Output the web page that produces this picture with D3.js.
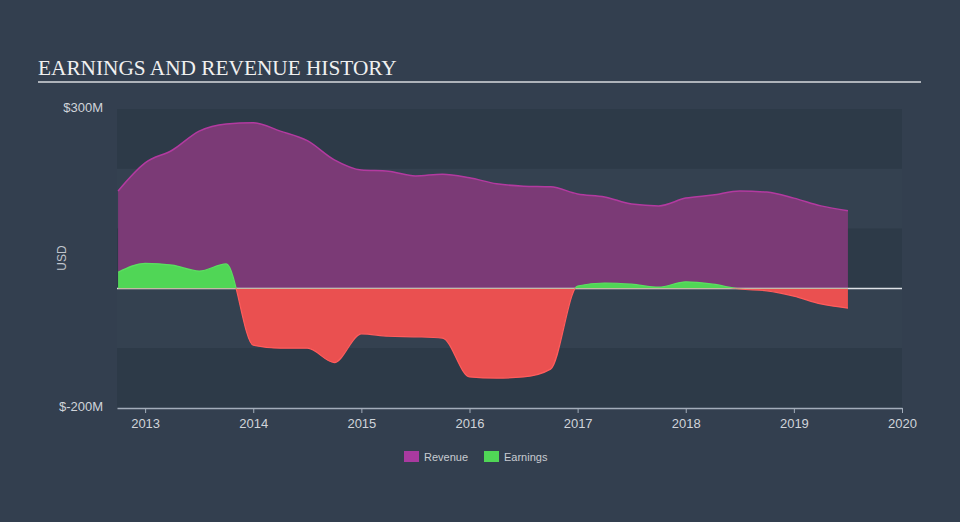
<!DOCTYPE html>
<html>
<head>
<meta charset="utf-8">
<script src="https://cdn.jsdelivr.net/npm/d3@7"></script>
<style>
  html, body { margin: 0; padding: 0; background: #333f4f; }
  svg { display: block; }
</style>
</head>
<body>
<svg id="chart" width="960" height="522"></svg>
<script>
// ---- data (USD millions, trailing twelve months, quarterly) ----
const dates = [
  2012.75, 2013.00, 2013.25, 2013.50, 2013.75, 2014.00, 2014.25, 2014.50,
  2014.75, 2015.00, 2015.25, 2015.50, 2015.75, 2016.00, 2016.25, 2016.50,
  2016.75, 2017.00, 2017.25, 2017.50, 2017.75, 2018.00, 2018.25, 2018.50,
  2018.75, 2019.00, 2019.25, 2019.50
];
const revenue = [
  163, 210, 231, 263, 275, 277, 263, 247,
  215, 198, 196, 188, 191, 185, 175, 171,
  170, 158, 153, 141, 138, 151, 156, 163,
  161, 151, 138, 130
];
const earnings = [
  27, 42, 39, 29, 41, -95, -100, -100,
  -124, -76, -80, -81, -83, -148, -150, -148,
  -135, 4, 9, 7, 2, 11, 7, -1,
  -4, -13, -26, -33
];
const xTicks = [2013, 2014, 2015, 2016, 2017, 2018, 2019, 2020];
const yDomain = [-200, 300];
const yLabels = ["$300M", "$-200M"];
const bandStops = [300, 200, 100, 0, -100, -200];
const seriesNames = ["Revenue", "Earnings"];

// ---- layout ----
const svg = d3.select("#chart");
const W = 960, H = 522;
const plot = { left: 117, right: 902, top: 109, bottom: 408 };

const x = d3.scaleLinear().domain([2012.74, 2020]).range([plot.left, plot.right]);
const y = d3.scaleLinear().domain(yDomain).range([plot.bottom, plot.top]);

// background
svg.append("rect").attr("width", W).attr("height", H).attr("fill", "#333f4f");

// alternating bands
for (let i = 0; i < bandStops.length - 1; i++) {
  svg.append("rect")
    .attr("x", plot.left)
    .attr("width", plot.right - plot.left)
    .attr("y", y(bandStops[i]))
    .attr("height", y(bandStops[i + 1]) - y(bandStops[i]))
    .attr("fill", i % 2 === 0 ? "#2d3a48" : "#344150");
}

// title
svg.append("text")
  .attr("x", 38).attr("y", 75)
  .attr("font-family", "'Liberation Serif', 'Times New Roman', serif")
  .attr("font-size", 21.3)
  .attr("fill", "#f0f0f0")
  .text("EARNINGS AND REVENUE HISTORY");
svg.append("line")
  .attr("x1", 38).attr("x2", 921).attr("y1", 82).attr("y2", 82)
  .attr("stroke", "#aeb3ba").attr("stroke-width", 2);

const pts = dates.map((d, i) => ({ t: d, r: revenue[i], e: earnings[i] }));
const curve = d3.curveMonotoneX;

// revenue area
svg.append("path")
  .datum(pts)
  .attr("fill", "#7b3a76")
  .attr("d", d3.area().curve(curve).x(d => x(d.t)).y0(y(0)).y1(d => y(d.r)));
svg.append("path")
  .datum(pts)
  .attr("fill", "none")
  .attr("stroke", "#b33aa0")
  .attr("stroke-width", 1.5)
  .attr("d", d3.line().curve(curve).x(d => x(d.t)).y(d => y(d.r)));

// zero line
svg.append("line")
  .attr("x1", plot.left).attr("x2", plot.right)
  .attr("y1", y(0)).attr("y2", y(0))
  .attr("stroke", "#dde1e6").attr("stroke-width", 1.5);

// earnings clip paths
const defs = svg.append("defs");
defs.append("clipPath").attr("id", "above")
  .append("rect").attr("x", 0).attr("y", 0).attr("width", W).attr("height", y(0));
defs.append("clipPath").attr("id", "below")
  .append("rect").attr("x", 0).attr("y", y(0)).attr("width", W).attr("height", H - y(0));

const eArea = d3.area().curve(curve).x(d => x(d.t)).y0(y(0)).y1(d => y(d.e));
const eLine = d3.line().curve(curve).x(d => x(d.t)).y(d => y(d.e));

svg.append("path").datum(pts).attr("clip-path", "url(#above)")
  .attr("fill", "#50d656").attr("d", eArea);
svg.append("path").datum(pts).attr("clip-path", "url(#above)")
  .attr("fill", "none").attr("stroke", "#5ae060").attr("stroke-width", 1.2).attr("d", eLine);
svg.append("path").datum(pts).attr("clip-path", "url(#below)")
  .attr("fill", "#ea5050").attr("d", eArea);
svg.append("path").datum(pts).attr("clip-path", "url(#below)")
  .attr("fill", "none").attr("stroke", "#ff5c5c").attr("stroke-width", 1.2).attr("d", eLine);

// x axis
const xAxis = svg.append("g")
  .attr("transform", `translate(0,${plot.bottom})`)
  .call(d3.axisBottom(x).tickValues(xTicks).tickFormat(d3.format("d")).tickSize(5).tickSizeOuter(0));
xAxis.select(".domain").attr("stroke", "#a3adba").attr("stroke-width", 1.5);
xAxis.selectAll(".tick line").attr("stroke", "#a3adba");
xAxis.selectAll(".tick text")
  .attr("fill", "#d0d4da")
  .attr("font-family", "'Liberation Sans Narrow', 'Arial Narrow', sans-serif")
  .attr("font-size", 13)
  .attr("dy", "0.95em");

// y labels
const yLabelStyle = sel => sel
  .attr("text-anchor", "end").attr("dominant-baseline", "middle")
  .attr("font-family", "'Liberation Sans', Arial, sans-serif").attr("font-size", 13)
  .attr("fill", "#d0d4da");
svg.append("text").attr("x", 103).attr("y", y(yDomain[1])).call(yLabelStyle).text(yLabels[0]);
svg.append("text").attr("x", 103).attr("y", y(yDomain[0])).call(yLabelStyle).text(yLabels[1]);
svg.append("text")
  .attr("transform", "translate(66,258) rotate(-90)")
  .attr("text-anchor", "middle")
  .attr("font-family", "'Liberation Sans', Arial, sans-serif").attr("font-size", 12)
  .attr("fill", "#c0c5cc").text("USD");

// legend
const legendColors = ["#a93aa0", "#50d656"];
const legendX = [404, 484];
seriesNames.forEach((name, i) => {
  svg.append("rect").attr("x", legendX[i]).attr("y", 451).attr("width", 15).attr("height", 11)
    .attr("fill", legendColors[i]);
  svg.append("text").attr("x", legendX[i] + 20).attr("y", 461)
    .attr("font-family", "'Liberation Sans', Arial, sans-serif").attr("font-size", 11)
    .attr("fill", "#c8ccd2").text(name);
});
</script>
</body>
</html>
